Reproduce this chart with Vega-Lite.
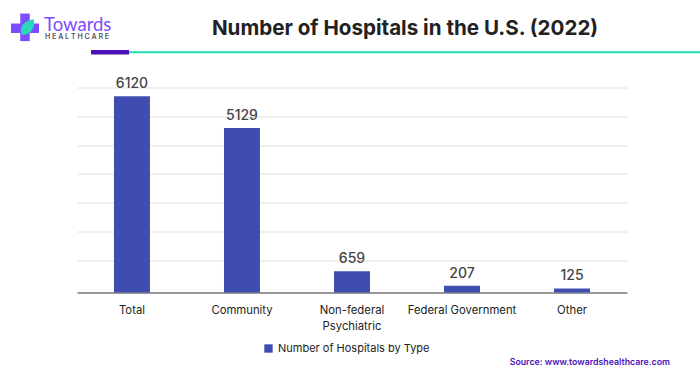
{
"$schema":"https://vega.github.io/schema/vega-lite/v6.json",
"width":550,"height":205,
"autosize":{"type":"none"},
"padding":{"left":77,"top":87.5,"right":73,"bottom":83.5},
"background":"white",
"config":{"view":{"stroke":null},"font":"Inter"},
"title":{"text":"Number of Hospitals in the U.S. (2022)","anchor":"middle","frame":"group","dx":53,"offset":-31,"font":"Inter","fontSize":20.6,"fontWeight":700,"color":"#222222"},
"resolve":{"scale":{"x":"independent"},"axis":{"x":"independent"}},
"layer":[
{"data":{"values":[
{"type":"Total","hospitals":6120,"series":"Number of Hospitals by Type"},
{"type":"Community","hospitals":5129,"series":"Number of Hospitals by Type"},
{"type":"Non-federal Psychiatric","hospitals":659,"series":"Number of Hospitals by Type"},
{"type":"Federal Government","hospitals":207,"series":"Number of Hospitals by Type"},
{"type":"Other","hospitals":125,"series":"Number of Hospitals by Type"}
]},
"encoding":{
 "x":{"field":"type","type":"nominal","sort":null,"scale":{"paddingInner":0.673,"paddingOuter":0.336},
  "axis":{"title":null,"labelAngle":0,"labelFontSize":11.3,"labelColor":"#222222","labelFont":"Inter","labelPadding":12,"labelLineHeight":16,"ticks":false,"domainColor":"#333333","domainWidth":1.2,"grid":false,"labelLimit":130,"labelExpr":"datum.label == 'Non-federal Psychiatric' ? ['Non-federal','Psychiatric'] : datum.label"}},
 "y":{"field":"hospitals","type":"quantitative","scale":{"domain":[0,6393],"nice":false},
  "axis":{"title":null,"values":[1003,1902,2801,3700,4599,5498,6393],"tickCount":20,"labelOverlap":false,"grid":true,"gridColor":"#e0e0e0","gridWidth":1,"domain":false,"ticks":false,"labels":false}}
 },
 "layer":[
  {"mark":{"type":"bar"},"encoding":{
    "color":{"field":"series","type":"nominal","scale":{"range":["#3f4db0"]},
     "legend":{"title":null,"orient":"none","legendX":186,"legendY":255.5,"symbolType":"square","symbolSize":70,"labelFontSize":11,"labelColor":"#222222","labelFont":"Inter","labelLimit":220,"symbolOpacity":1}}}},
  {"mark":{"type":"text","dy":-12,"fontSize":14,"fontWeight":500,"font":"Inter","color":"#444444"},"encoding":{"text":{"field":"hospitals","type":"quantitative","format":"d"}}}
 ]
},
{"data":{"values":[{"note":"header"}]},"layer":[
 {"mark":{"type":"rule","color":"#1fdca8","strokeWidth":2},"encoding":{
   "x":{"datum":52,"type":"quantitative","scale":{"domain":[0,550],"nice":false},"axis":null},"x2":{"datum":623},
   "y":{"datum":7492,"type":"quantitative"}}},
 {"mark":{"type":"rule","color":"#4a12b8","strokeWidth":4.5},"encoding":{
   "x":{"datum":14,"type":"quantitative"},"x2":{"datum":52},
   "y":{"datum":7492,"type":"quantitative"}}},
 {"mark":{"type":"rule","color":"#7c4dff","strokeWidth":9.5},"encoding":{
   "x":{"datum":-52,"type":"quantitative"},
   "y":{"datum":8700,"type":"quantitative"},"y2":{"datum":7840}}},
 {"mark":{"type":"rule","color":"#7c4dff","strokeWidth":9.5},"encoding":{
   "x":{"datum":-66,"type":"quantitative"},"x2":{"datum":-38},
   "y":{"datum":8240,"type":"quantitative"}}},
 {"mark":{"type":"point","filled":true,"opacity":1,"color":"#2bd9b9","size":230,"shape":"M -0.7 0.9 C -1.1 0 -0.5 -0.9 0.9 -1.1 C 1.1 0 0.5 1.1 -0.7 0.9 Z"},"encoding":{
   "x":{"datum":-50,"type":"quantitative"},
   "y":{"datum":8260,"type":"quantitative"}}},
 {"mark":{"type":"text","align":"left","baseline":"middle","fontSize":18.5,"font":"Lato","color":"#7c4dff"},"encoding":{
   "x":{"datum":-33,"type":"quantitative"},
   "y":{"datum":8350,"type":"quantitative"},
   "text":{"datum":"Towards"}}},
 {"mark":{"type":"text","align":"left","baseline":"middle","fontSize":7.1,"font":"Inter","fontWeight":600,"color":"#555555"},"encoding":{
   "x":{"datum":-32,"type":"quantitative"},
   "y":{"datum":7960,"type":"quantitative"},
   "text":{"datum":"H E A L T H C A R E"}}},
 {"mark":{"type":"text","align":"right","baseline":"middle","fontSize":8.8,"font":"Inter","fontWeight":600,"color":"#4a12b8"},"encoding":{
   "x":{"datum":593,"type":"quantitative"},
   "y":{"datum":-2160,"type":"quantitative"},
   "text":{"datum":"Source: www.towardshealthcare.com"}}}
]}
]
}
